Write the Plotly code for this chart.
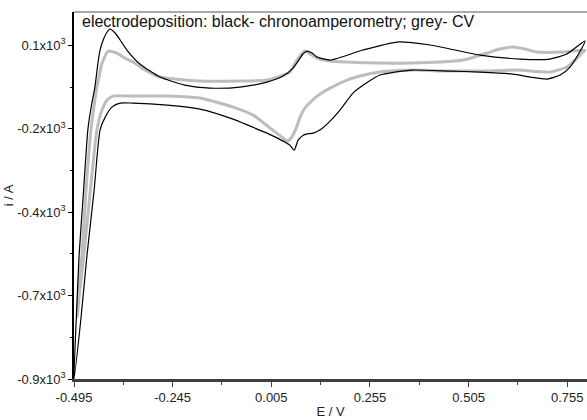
import plotly.graph_objects as go

# Black: chronoamperometry-deposited film (E / V, i in units of 10^3 A as labelled)
black_E = [-0.495, -0.489, -0.482, -0.471, -0.460, -0.452, -0.442, -0.434, -0.429, -0.419,
           -0.411, -0.404, -0.391, -0.378, -0.361, -0.328, -0.277, -0.214, -0.150, -0.074,
           -0.006, 0.035, 0.060, 0.075, 0.085, 0.096, 0.108, 0.121, 0.154, 0.237,
           0.324, 0.407, 0.534, 0.635, 0.711, 0.754, 0.800,
           0.782, 0.762, 0.737, 0.704, 0.661, 0.617, 0.534, 0.458, 0.364,
           0.318, 0.280, 0.242, 0.212, 0.179, 0.154, 0.128, 0.111, 0.093, 0.083,
           0.073, 0.063, 0.052, 0.035, -0.006, -0.049, -0.092, -0.176, -0.259, -0.346,
           -0.378, -0.399, -0.416, -0.429, -0.444, -0.462, -0.477, -0.495]
black_i = [-0.900, -0.714, -0.528, -0.340, -0.154, -0.088, -0.025, 0.050, 0.086, 0.122,
           0.140, 0.149, 0.137, 0.116, 0.086, 0.044, 0.005, -0.019, -0.028, -0.025,
           -0.010, 0.008, 0.032, 0.056, 0.074, 0.083, 0.077, 0.065, 0.056, 0.086,
           0.110, 0.101, 0.071, 0.059, 0.059, 0.074, 0.113,
           0.071, 0.035, 0.011, -0.001, 0.005, 0.014, 0.020, 0.023, 0.026,
           0.020, 0.011, -0.016, -0.043, -0.094, -0.127, -0.154, -0.163, -0.166, -0.172,
           -0.184, -0.214, -0.199, -0.187, -0.163, -0.142, -0.121, -0.091, -0.079, -0.073,
           -0.073, -0.085, -0.115, -0.154, -0.334, -0.528, -0.714, -0.900]

# Grey: CV-deposited film
grey_E = [-0.487, -0.482, -0.475, -0.465, -0.452, -0.444, -0.437, -0.429, -0.424, -0.416,
          -0.411, -0.404, -0.396, -0.386, -0.366, -0.345, -0.315, -0.277, -0.176, -0.074,
          -0.006, 0.035, 0.052, 0.070, 0.080, 0.090, 0.103, 0.121, 0.154, 0.197,
          0.280, 0.364, 0.432, 0.491, 0.552, 0.584, 0.617, 0.648, 0.678, 0.744, 0.800,
          0.792, 0.775, 0.754, 0.711, 0.628, 0.534, 0.450, 0.364, 0.280, 0.230,
          0.197, 0.154, 0.121, 0.090, 0.078, 0.068, 0.057, 0.045, 0.035, 0.002,
          -0.041, -0.092, -0.176, -0.259, -0.353, -0.396, -0.411, -0.424, -0.437, -0.454,
          -0.470, -0.480, -0.487]
grey_i = [-0.714, -0.621, -0.528, -0.340, -0.154, -0.079, -0.025, 0.020, 0.047, 0.068,
          0.080, 0.083, 0.080, 0.077, 0.062, 0.050, 0.026, 0.005, -0.007, -0.007,
          -0.004, 0.011, 0.020, 0.056, 0.071, 0.083, 0.074, 0.062, 0.053, 0.050,
          0.047, 0.047, 0.050, 0.056, 0.077, 0.089, 0.095, 0.089, 0.080, 0.080, 0.086,
          0.077, 0.056, 0.035, 0.020, 0.026, 0.023, 0.023, 0.026, 0.020, 0.008,
          -0.004, -0.028, -0.052, -0.088, -0.115, -0.148, -0.175, -0.187, -0.178, -0.148,
          -0.109, -0.085, -0.058, -0.052, -0.052, -0.052, -0.064, -0.094, -0.154, -0.340,
          -0.528, -0.633, -0.714]

x_ticks = [-0.495, -0.245, 0.005, 0.255, 0.505, 0.755]
x_minor = [-0.37, -0.12, 0.13, 0.38, 0.63]
y_ticks = [0.1, -0.15, -0.4, -0.65, -0.9]
y_labels = ["0.1x10<sup>3</sup>", "-0.2x10<sup>3</sup>", "-0.4x10<sup>3</sup>",
            "-0.7x10<sup>3</sup>", "-0.9x10<sup>3</sup>"]
y_minor = [-0.025, -0.275, -0.525, -0.775]

fig = go.Figure()
fig.add_trace(go.Scatter(x=grey_E, y=grey_i, mode="lines",
                         line=dict(color="#bdbdbd", width=3, shape="spline", smoothing=0.6),
                         showlegend=False))
fig.add_trace(go.Scatter(x=black_E, y=black_i, mode="lines",
                         line=dict(color="#000000", width=1.2, shape="spline", smoothing=0.6),
                         showlegend=False))

font = "Liberation Sans, Arial, sans-serif"
fig.update_layout(
    width=587, height=420,
    margin=dict(l=74, r=0, t=12, b=41),
    paper_bgcolor="white", plot_bgcolor="white",
    font=dict(family=font, size=13, color="#222"),
    xaxis=dict(range=[-0.495, 0.805], tickvals=x_ticks,
               ticktext=[f"{v:.3f}" for v in x_ticks],
               showgrid=False, zeroline=False, showline=True, linecolor="#404040", linewidth=2.5,
               ticks="outside", ticklen=5, tickcolor="#404040", tickwidth=1,
               tickfont=dict(size=13, color="#222"),
               minor=dict(tickvals=x_minor, ticks="outside", ticklen=3, tickcolor="#404040"),
               title=dict(text="E / V", font=dict(size=13, color="#222"), standoff=3)),
    yaxis=dict(range=[-0.9, 0.2], tickvals=y_ticks, ticktext=y_labels,
               showgrid=False, zeroline=False, showline=True, linecolor="#000", linewidth=1.5,
               ticks="outside", ticklen=4, tickcolor="#000", tickwidth=1,
               tickfont=dict(size=13, color="#222"),
               minor=dict(tickvals=y_minor, ticks="outside", ticklen=2, tickcolor="#000"),
               title=dict(text="i / A", font=dict(size=13, color="#222"), standoff=1)),
    shapes=[dict(type="line", xref="paper", yref="paper", x0=0, x1=1, y0=1, y1=1,
                 line=dict(color="#555", width=1))],
    annotations=[dict(text="electrodeposition: black- chronoamperometry; grey- CV",
                      xref="paper", yref="paper", x=0.0, y=1.0, xanchor="left", yanchor="top",
                      xshift=6, yshift=1,
                      showarrow=False, font=dict(size=16, color="#111"))],
)
fig.write_html("out.html")
